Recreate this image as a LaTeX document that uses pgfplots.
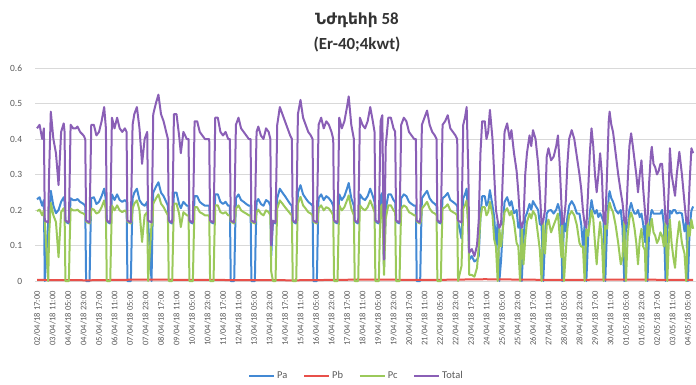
\documentclass[border=0pt]{standalone}
\usepackage{fontspec}
\setmainfont{Carlito}
\newfontfamily\armfont{DejaVu Sans}
\usepackage{pgfplots}
\usepackage{pgfplotstable}
\pgfplotsset{compat=1.18}
\definecolor{cPa}{HTML}{4389D4}
\definecolor{cPb}{HTML}{E8504A}
\definecolor{cPc}{HTML}{9BC95A}
\definecolor{cTot}{HTML}{8A5FB6}
\definecolor{gridc}{HTML}{D9D9D9}
\definecolor{labc}{HTML}{595959}
\definecolor{titc}{HTML}{333333}
\pgfplotstableread{
h pa pc tot
0 0.230 0.197 0.430
3 0.236 0.201 0.440
6 0.212 0.185 0.400
8 0.228 0.199 0.430
9 0.000 0.167 0.170
13 0.163 0.000 0.165
14 0.170 0.127 0.300
16 0.254 0.220 0.477
19 0.212 0.185 0.400
22 0.191 0.166 0.360
25 0.200 0.067 0.270
28 0.223 0.194 0.420
31 0.236 0.205 0.444
32 0.223 0.194 0.420
33 0.167 0.000 0.170
37 0.162 0.000 0.165
38 0.180 0.117 0.300
39 0.233 0.204 0.440
42 0.228 0.199 0.430
45 0.228 0.199 0.430
47 0.231 0.201 0.435
50 0.223 0.194 0.420
54 0.217 0.190 0.410
56 0.212 0.185 0.400
57 0.000 0.167 0.170
61 0.000 0.162 0.165
62 0.127 0.170 0.300
63 0.233 0.204 0.440
66 0.236 0.201 0.440
69 0.217 0.190 0.410
72 0.223 0.194 0.420
75 0.239 0.208 0.450
78 0.260 0.227 0.490
80 0.228 0.199 0.430
81 0.167 0.000 0.170
85 0.162 0.000 0.165
86 0.187 0.110 0.300
87 0.244 0.213 0.460
90 0.228 0.199 0.430
93 0.244 0.213 0.460
96 0.228 0.199 0.430
99 0.223 0.194 0.420
102 0.228 0.199 0.430
104 0.223 0.194 0.420
105 0.000 0.167 0.170
109 0.000 0.162 0.165
110 0.127 0.170 0.300
111 0.233 0.204 0.440
113 0.249 0.218 0.470
116 0.260 0.227 0.490
119 0.228 0.199 0.430
122 0.217 0.110 0.330
125 0.212 0.185 0.400
128 0.223 0.194 0.420
129 0.167 0.000 0.170
133 0.000 0.162 0.165
134 0.140 0.157 0.300
135 0.249 0.218 0.470
138 0.265 0.232 0.500
141 0.278 0.244 0.525
144 0.249 0.218 0.470
147 0.239 0.208 0.450
150 0.223 0.194 0.420
152 0.212 0.185 0.400
153 0.167 0.000 0.170
157 0.162 0.000 0.165
158 0.180 0.117 0.300
159 0.249 0.218 0.470
162 0.249 0.218 0.470
165 0.217 0.190 0.410
167 0.205 0.152 0.360
170 0.223 0.194 0.420
174 0.212 0.185 0.400
176 0.212 0.185 0.400
177 0.167 0.000 0.170
181 0.162 0.000 0.165
182 0.180 0.117 0.300
183 0.239 0.208 0.450
186 0.239 0.208 0.450
189 0.223 0.194 0.420
192 0.217 0.190 0.410
195 0.212 0.185 0.400
198 0.212 0.185 0.400
200 0.212 0.185 0.400
201 0.167 0.000 0.170
205 0.162 0.000 0.165
206 0.180 0.117 0.300
207 0.244 0.213 0.460
210 0.244 0.213 0.460
213 0.223 0.194 0.420
216 0.217 0.190 0.410
219 0.223 0.194 0.420
222 0.212 0.185 0.400
224 0.212 0.185 0.400
225 0.000 0.167 0.170
229 0.000 0.162 0.165
230 0.127 0.170 0.300
231 0.233 0.204 0.440
234 0.244 0.213 0.460
237 0.228 0.199 0.430
240 0.223 0.194 0.420
243 0.217 0.190 0.410
246 0.212 0.185 0.400
248 0.212 0.185 0.400
249 0.000 0.167 0.170
253 0.000 0.162 0.165
254 0.127 0.170 0.300
255 0.223 0.194 0.420
257 0.231 0.201 0.435
260 0.217 0.190 0.410
263 0.212 0.185 0.400
266 0.228 0.199 0.430
269 0.223 0.194 0.420
271 0.212 0.185 0.400
272 0.070 0.027 0.100
274 0.167 0.000 0.170
277 0.162 0.000 0.165
278 0.180 0.117 0.300
279 0.233 0.204 0.440
282 0.260 0.227 0.490
285 0.249 0.218 0.470
288 0.239 0.208 0.450
291 0.228 0.199 0.430
294 0.217 0.190 0.410
296 0.212 0.185 0.400
297 0.167 0.000 0.170
301 0.162 0.000 0.165
302 0.180 0.117 0.300
303 0.249 0.218 0.470
306 0.270 0.237 0.510
309 0.244 0.213 0.460
312 0.233 0.204 0.440
315 0.223 0.194 0.420
318 0.217 0.190 0.410
320 0.212 0.185 0.400
321 0.000 0.167 0.170
325 0.000 0.162 0.165
326 0.127 0.170 0.300
327 0.233 0.204 0.440
330 0.244 0.213 0.460
333 0.228 0.199 0.430
336 0.239 0.208 0.450
339 0.233 0.204 0.440
342 0.223 0.194 0.420
344 0.212 0.185 0.400
345 0.167 0.000 0.170
349 0.162 0.000 0.165
350 0.180 0.117 0.300
351 0.244 0.213 0.460
354 0.228 0.199 0.430
357 0.239 0.208 0.450
360 0.260 0.227 0.490
362 0.276 0.241 0.520
365 0.233 0.204 0.440
368 0.212 0.185 0.400
369 0.167 0.000 0.170
373 0.162 0.000 0.165
374 0.180 0.117 0.300
375 0.244 0.213 0.460
378 0.233 0.204 0.440
381 0.228 0.199 0.430
384 0.239 0.208 0.450
387 0.260 0.227 0.490
390 0.239 0.208 0.450
392 0.223 0.194 0.420
393 0.167 0.000 0.170
397 0.162 0.000 0.165
398 0.180 0.117 0.300
399 0.239 0.208 0.450
401 0.248 0.216 0.467
403 0.040 0.017 0.060
405 0.201 0.176 0.380
408 0.244 0.213 0.460
411 0.244 0.213 0.460
414 0.228 0.199 0.430
416 0.223 0.194 0.420
417 0.167 0.000 0.170
421 0.162 0.000 0.165
422 0.180 0.117 0.300
423 0.233 0.204 0.440
426 0.244 0.213 0.460
429 0.239 0.208 0.450
432 0.223 0.194 0.420
435 0.217 0.190 0.410
438 0.212 0.185 0.400
440 0.212 0.185 0.400
441 0.000 0.167 0.170
445 0.000 0.162 0.165
446 0.127 0.170 0.300
447 0.233 0.204 0.440
450 0.244 0.213 0.460
453 0.254 0.223 0.480
456 0.233 0.204 0.440
459 0.223 0.194 0.420
462 0.217 0.190 0.410
464 0.212 0.185 0.400
465 0.167 0.000 0.170
469 0.162 0.000 0.165
470 0.180 0.117 0.300
471 0.233 0.204 0.440
474 0.239 0.208 0.450
477 0.248 0.216 0.467
480 0.228 0.199 0.430
483 0.223 0.194 0.420
486 0.217 0.190 0.410
488 0.212 0.185 0.400
489 0.167 0.000 0.170
493 0.120 0.042 0.165
494 0.180 0.117 0.300
495 0.233 0.204 0.440
497 0.244 0.213 0.460
499 0.260 0.227 0.490
501 0.150 0.147 0.300
502 0.060 0.017 0.080
505 0.070 0.017 0.090
508 0.055 0.012 0.070
511 0.060 0.037 0.100
513 0.070 0.097 0.170
515 0.180 0.177 0.360
517 0.239 0.208 0.450
520 0.239 0.208 0.450
522 0.212 0.185 0.400
524 0.223 0.194 0.420
526 0.256 0.223 0.482
529 0.212 0.185 0.400
531 0.180 0.117 0.300
533 0.100 0.097 0.200
535 0.167 0.000 0.170
537 0.000 0.147 0.150
539 0.060 0.097 0.160
541 0.150 0.147 0.300
543 0.223 0.194 0.420
546 0.236 0.205 0.444
549 0.212 0.185 0.400
551 0.225 0.197 0.425
554 0.191 0.166 0.360
557 0.200 0.107 0.310
559 0.150 0.097 0.250
561 0.167 0.000 0.170
563 0.000 0.147 0.150
565 0.120 0.047 0.170
567 0.180 0.117 0.300
569 0.191 0.166 0.360
572 0.217 0.190 0.410
574 0.201 0.176 0.380
576 0.225 0.197 0.425
579 0.212 0.185 0.400
582 0.200 0.127 0.330
584 0.160 0.087 0.250
586 0.157 0.000 0.160
588 0.000 0.167 0.170
590 0.120 0.077 0.200
592 0.190 0.157 0.350
594 0.198 0.173 0.374
597 0.200 0.137 0.340
600 0.190 0.157 0.350
603 0.201 0.176 0.380
605 0.217 0.190 0.410
607 0.200 0.127 0.330
609 0.150 0.067 0.220
610 0.000 0.157 0.160
612 0.167 0.000 0.170
614 0.140 0.077 0.220
616 0.180 0.147 0.330
618 0.212 0.185 0.400
621 0.225 0.197 0.425
624 0.212 0.185 0.400
627 0.190 0.157 0.350
630 0.190 0.107 0.300
632 0.160 0.097 0.260
634 0.100 0.097 0.200
636 0.157 0.000 0.160
638 0.000 0.147 0.150
640 0.120 0.127 0.250
642 0.191 0.166 0.360
644 0.228 0.199 0.430
646 0.201 0.176 0.380
648 0.190 0.107 0.300
650 0.200 0.047 0.250
652 0.180 0.117 0.300
654 0.191 0.166 0.360
656 0.180 0.117 0.300
658 0.167 0.000 0.170
660 0.000 0.157 0.160
662 0.150 0.147 0.300
664 0.239 0.208 0.450
665 0.253 0.221 0.477
667 0.233 0.204 0.440
669 0.223 0.194 0.420
672 0.200 0.157 0.360
675 0.190 0.107 0.300
678 0.200 0.047 0.250
680 0.150 0.067 0.220
682 0.000 0.167 0.170
684 0.157 0.000 0.160
686 0.150 0.127 0.280
688 0.201 0.176 0.380
690 0.220 0.193 0.416
692 0.201 0.176 0.380
694 0.190 0.147 0.340
696 0.190 0.107 0.300
698 0.200 0.047 0.250
700 0.180 0.117 0.300
702 0.190 0.147 0.340
704 0.160 0.097 0.260
706 0.110 0.087 0.200
707 0.157 0.000 0.160
709 0.000 0.167 0.170
711 0.150 0.127 0.280
713 0.191 0.166 0.360
714 0.200 0.175 0.378
716 0.190 0.137 0.330
718 0.190 0.127 0.320
720 0.190 0.107 0.300
722 0.190 0.117 0.310
724 0.190 0.137 0.330
726 0.200 0.127 0.330
728 0.160 0.097 0.260
730 0.000 0.167 0.170
732 0.157 0.000 0.160
734 0.150 0.127 0.280
735 0.198 0.173 0.374
737 0.190 0.107 0.300
739 0.200 0.067 0.270
741 0.200 0.037 0.240
743 0.190 0.107 0.300
746 0.193 0.168 0.364
749 0.190 0.107 0.300
752 0.140 0.077 0.220
754 0.167 0.000 0.170
756 0.000 0.157 0.160
758 0.150 0.127 0.280
760 0.198 0.173 0.374
762 0.210 0.147 0.360
}\datatab
\begin{document}
\begin{tikzpicture}
\useasboundingbox (-35.3bp,-104bp) rectangle (660.7bp,281bp);
\begin{axis}[
  at={(0,0)}, anchor=south west,
  scale only axis, width=660.4bp, height=213bp,
  xmin=-2, xmax=765, ymin=0, ymax=0.6,
  clip=false,
  axis line style={draw=none},
  major tick length=0pt,
  ymajorgrids, grid style={draw=gridc, line width=0.8bp},
  ytick={0,0.1,0.2,0.3,0.4,0.5,0.6},
  yticklabels={0,0.1,0.2,0.3,0.4,0.5,0.6},
  yticklabel style={font=\fontsize{9.5}{10}\selectfont, text=labc, anchor=east, inner sep=0pt, xshift=-13bp},
  xtick={0,18,...,756},
  xticklabels={02/04/18 17:00, 03/04/18 11:00, 04/04/18 05:00, 04/04/18 23:00, 05/04/18 17:00, 06/04/18 11:00, 07/04/18 05:00, 07/04/18 23:00, 08/04/18 17:00, 09/04/18 11:00, 10/04/18 05:00, 10/04/18 23:00, 11/04/18 17:00, 12/04/18 11:00, 13/04/18 05:00, 13/04/18 23:00, 14/04/18 17:00, 15/04/18 11:00, 16/04/18 05:00, 16/04/18 23:00, 17/04/18 17:00, 18/04/18 11:00, 19/04/18 05:00, 19/04/18 23:00, 20/04/18 17:00, 21/04/18 11:00, 22/04/18 05:00, 22/04/18 23:00, 23/04/18 17:00, 24/04/18 11:00, 25/04/18 05:00, 25/04/18 23:00, 26/04/18 17:00, 27/04/18 11:00, 28/04/18 05:00, 28/04/18 23:00, 29/04/18 17:00, 30/04/18 11:00, 01/05/18 05:00, 01/05/18 23:00, 02/05/18 17:00, 03/05/18 11:00, 04/05/18 05:00},
  xticklabel style={yshift=-10bp, rotate=90, anchor=east, inner sep=0pt, font=\fontsize{8.6}{9}\selectfont, text=labc},
  legend columns=4,
  legend style={at={(0.4864,-0.446)}, anchor=center, draw=none, fill=none,
    font=\fontsize{10.5}{11}\selectfont, text=labc,
    /tikz/every even column/.append style={column sep=14bp}},
  legend image code/.code={\draw[#1, line width=1.8bp] (0bp,0bp) -- (25bp,0bp);},
  every axis plot/.append style={line width=2bp, line join=round},
]
\addplot[cPa] table[x=h,y=pa]{\datatab};
\addlegendentry{Pa}
\addplot[cPb] coordinates {(0,0.003) (60,0.002) (120,0.004) (200,0.003) (300,0.002) (380,0.004) (460,0.003) (520,0.005) (600,0.003) (680,0.004) (762,0.003)};
\addlegendentry{Pb}
\addplot[cPc] table[x=h,y=pc]{\datatab};
\addlegendentry{Pc}
\addplot[cTot] table[x=h,y=tot]{\datatab};
\addlegendentry{Total}
\end{axis}
\node[font=\fontsize{17}{20}\selectfont\bfseries, text=titc] at (321.7bp,261bp) {{\armfont\fontsize{15.5}{18}\selectfont Նժդեհի} 58};
\node[font=\fontsize{17}{20}\selectfont\bfseries, text=titc] at (321.7bp,237bp) {(Er-40;4kwt)};
\end{tikzpicture}
\end{document}
